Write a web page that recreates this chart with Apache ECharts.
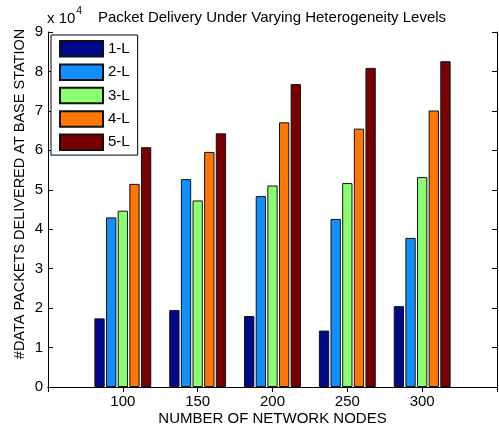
<!DOCTYPE html>
<html>
<head>
<meta charset="utf-8">
<script src="https://cdn.jsdelivr.net/npm/echarts@6/dist/echarts.min.js"></script>
<style>
  html, body { margin: 0; padding: 0; background: #fff; }
  #chart { width: 499px; height: 426px; }
</style>
</head>
<body>
<div id="chart"></div>
<script>
// Number of network nodes (x positions of the bar groups)
const nodeCounts = [100, 150, 200, 250, 300];

// Packets delivered at the base station, per heterogeneity level
const seriesNames = ['1-L', '2-L', '3-L', '4-L', '5-L'];
const level1 = [17400, 19500, 18000, 14300, 20500];
const level2 = [43000, 52700, 48400, 42600, 37800];
const level3 = [44700, 47300, 51100, 51700, 53200];
const level4 = [51500, 59600, 67100, 65500, 70100];
const level5 = [60800, 64300, 76800, 80900, 82600];
const levelValues = [level1, level2, level3, level4, level5];
const levelColors = ['#00088c', '#1090ff', '#8cff70', '#ff7700', '#780000'];

// Y tick labels are shown in units of 10^4
const yTicks = [0, 1, 2, 3, 4, 5, 6, 7, 8, 9];

const font = 'Liberation Sans, Arial, sans-serif';
const fs = 15;

const chart = echarts.init(document.getElementById('chart'), null, { renderer: 'canvas' });

const series = seriesNames.map((name, i) => ({
  name: name,
  type: 'bar',
  xAxisIndex: 0,
  yAxisIndex: 0,
  barWidth: 10.3,
  barGap: '13%',
  itemStyle: { color: levelColors[i], borderColor: '#111', borderWidth: 1 },
  data: nodeCounts.map((n, j) => [n, levelValues[i][j]])
}));

const tickStyle = { show: true, inside: true, length: 5, lineStyle: { color: '#000', width: 1 } };
const lineStyle = { show: true, lineStyle: { color: '#000', width: 1 } };

chart.setOption({
  animation: false,
  backgroundColor: '#fff',
  title: {
    text: 'Packet Delivery Under Varying Heterogeneity Levels',
    left: 267, top: 5, textAlign: 'center',
    textStyle: { fontFamily: font, fontSize: fs, fontWeight: 'normal', color: '#000' }
  },
  legend: {
    data: seriesNames,
    orient: 'vertical',
    left: 51, top: 35,
    icon: 'rect',
    itemWidth: 43, itemHeight: 15.5, itemGap: 5.9,
    padding: [5, 8, 4, 8],
    backgroundColor: '#fff',
    borderColor: '#000', borderWidth: 1,
    borderRadius: 0,
    textStyle: { fontFamily: font, fontSize: fs, color: '#000', lineHeight: 15.5 }
  },
  grid: { left: 48, right: 2, top: 32, bottom: 39, outerBoundsMode: 'none', containLabel: false },
  xAxis: [
    {
      type: 'value', min: 50, max: 350, interval: 50,
      position: 'bottom',
      axisLine: lineStyle, axisTick: tickStyle, splitLine: { show: false },
      axisLabel: {
        fontFamily: font, fontSize: fs, color: '#000', margin: 7,
        formatter: v => (nodeCounts.indexOf(v) >= 0 ? String(v) : '')
      },
      name: 'NUMBER OF NETWORK NODES', nameLocation: 'middle', nameGap: 24,
      nameMoveOverlap: false,
      nameTextStyle: { fontFamily: font, fontSize: fs, color: '#000', verticalAlign: 'top' }
    },
    {
      type: 'value', min: 50, max: 350, interval: 50,
      position: 'top',
      axisLine: lineStyle, axisTick: tickStyle, splitLine: { show: false },
      axisLabel: { show: false }
    }
  ],
  yAxis: [
    {
      type: 'value', min: 0, max: 90000, interval: 10000,
      axisLine: lineStyle, axisTick: tickStyle, splitLine: { show: false },
      axisLabel: {
        fontFamily: font, fontSize: fs, color: '#000', margin: 5,
        formatter: v => String(yTicks[Math.round(v / 10000)])
      }
    },
    {
      type: 'value', min: 0, max: 90000, interval: 10000,
      position: 'right',
      axisLine: lineStyle, axisTick: tickStyle, splitLine: { show: false },
      axisLabel: { show: false }
    }
  ],
  graphic: [
    {
      type: 'text', left: 47, top: 6,
      style: {
        text: '{a|x 10}{s|4}',
        rich: {
          a: { fontFamily: font, fontSize: fs, fill: '#000', verticalAlign: 'bottom', lineHeight: 20 },
          s: { fontFamily: font, fontSize: 10.5, fill: '#000', verticalAlign: 'top', lineHeight: 20, padding: [0, 0, 8, 1] }
        }
      }
    },
    {
      type: 'text', x: 20, y: 194, rotation: Math.PI / 2,
      style: {
        text: '#DATA PACKETS DELIVERED AT BASE STATION',
        fontFamily: font, fontSize: 14.5, fill: '#000',
        align: 'center', verticalAlign: 'middle'
      }
    }
  ],
  series: series
});
</script>
</body>
</html>
